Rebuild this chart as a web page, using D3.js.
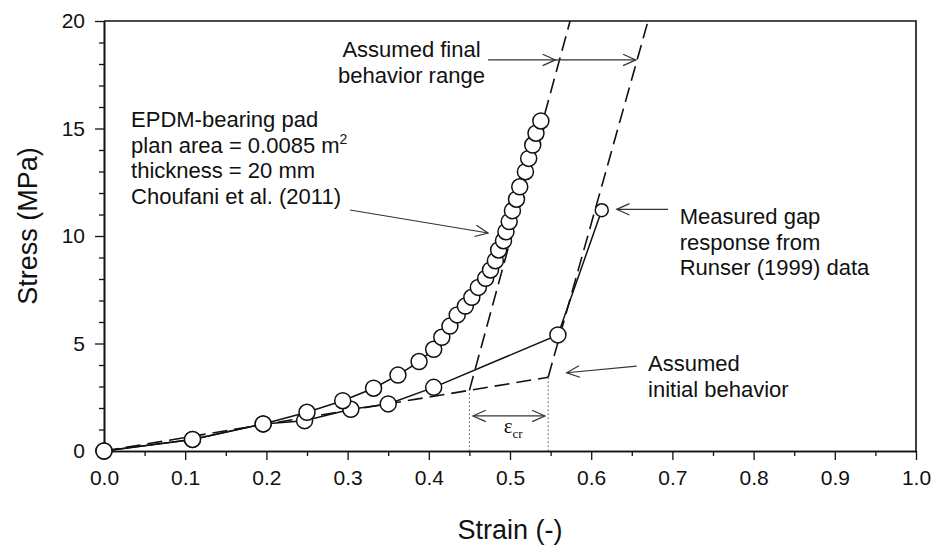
<!DOCTYPE html>
<html>
<head>
<meta charset="utf-8">
<script src="https://cdn.jsdelivr.net/npm/d3@7"></script>
<style>
body { margin: 0; background: #fff; }
svg text { font-family: "Liberation Sans", Arial, sans-serif; fill: #111; }
</style>
</head>
<body>
<svg id="chart" width="931" height="545"></svg>
<script>
// EPDM bearing pad, Choufani et al. (2011)
const epdmStrain = [0, 0.109, 0.196, 0.250, 0.294, 0.332, 0.362, 0.388, 0.406, 0.416, 0.426, 0.435,
  0.445, 0.453, 0.461, 0.470, 0.476, 0.482, 0.486, 0.492, 0.495, 0.499, 0.503, 0.508, 0.512,
  0.519, 0.523, 0.528, 0.532, 0.538];
const epdmStress = [0, 0.54, 1.26, 1.80, 2.34, 2.92, 3.53, 4.16, 4.73, 5.29, 5.81, 6.33,
  6.74, 7.15, 7.61, 8.03, 8.42, 8.85, 9.35, 9.78, 10.2, 10.67, 11.18, 11.71, 12.29,
  12.99, 13.61, 14.23, 14.78, 15.35];

// measured gap response, Runser (1999)
const gapStrain = [0, 0.109, 0.196, 0.247, 0.304, 0.350, 0.406, 0.559, 0.613];
const gapStress = [0, 0.54, 1.26, 1.41, 1.94, 2.19, 2.96, 5.40, 11.2];

// assumed behaviour (dashed)
const initialStrain = [0, 0.547];
const initialStress = [0, 3.43];
const finalLeftStrain = [0.45, 0.574];
const finalLeftStress = [2.82, 20];
const finalRightStrain = [0.547, 0.670];
const finalRightStress = [3.43, 20];

// eps_cr limits (dotted)
const crStrain = [0.45, 0.547];
const crStress = [2.82, 3.43];

const xTicks = [0, 0.1, 0.2, 0.3, 0.4, 0.5, 0.6, 0.7, 0.8, 0.9, 1.0];
const xMinor = [0.05, 0.15, 0.25, 0.35, 0.45, 0.55, 0.65, 0.75, 0.85, 0.95];
const yTicks = [0, 5, 10, 15, 20];
const yMinor = [1, 2, 3, 4, 6, 7, 8, 9, 11, 12, 13, 14, 16, 17, 18, 19];

const svg = d3.select("#chart");
const pLeft = 104, pRight = 916, pTop = 21, pBottom = 451;

const x = d3.scaleLinear().domain([0, 1]).range([pLeft, pRight]);
const y = d3.scaleLinear().domain([0, 20]).range([pBottom, pTop]);

const pts = (xs, ys) => xs.map((v, i) => [x(v), y(ys[i])]);
const line = d3.line();

// arrows with open V heads
function arrow(g, x1, y1, x2, y2, both) {
  const p1 = [x(x1), y(y1)], p2 = [x(x2), y(y2)];
  g.append("line").attr("x1", p1[0]).attr("y1", p1[1]).attr("x2", p2[0]).attr("y2", p2[1]);
  const head = (tip, from) => {
    const a = Math.atan2(tip[1] - from[1], tip[0] - from[0]);
    const len = 14, sp = 0.42;
    g.append("path").attr("fill", "none").attr("d",
      "M" + (tip[0] - len * Math.cos(a - sp)) + "," + (tip[1] - len * Math.sin(a - sp)) +
      "L" + tip[0] + "," + tip[1] +
      "L" + (tip[0] - len * Math.cos(a + sp)) + "," + (tip[1] - len * Math.sin(a + sp)));
  };
  head(p2, p1);
  if (both) head(p1, p2);
}

// axes
const xAxis = svg.append("g").attr("transform", `translate(0,${pBottom})`)
  .call(d3.axisBottom(x).tickValues(xTicks).tickFormat(d3.format(".1f")).tickSize(9).tickSizeOuter(0));
svg.append("g").attr("transform", `translate(0,${pBottom})`)
  .call(d3.axisBottom(x).tickValues(xMinor).tickFormat("").tickSize(5).tickSizeOuter(0));
const yAxis = svg.append("g").attr("transform", `translate(${pLeft},0)`)
  .call(d3.axisLeft(y).tickValues(yTicks).tickSize(9).tickSizeOuter(0));
svg.append("g").attr("transform", `translate(${pLeft},0)`)
  .call(d3.axisLeft(y).tickValues(yMinor).tickFormat("").tickSize(5).tickSizeOuter(0));

svg.selectAll(".domain").attr("stroke", "#111").attr("stroke-width", 1.6);
svg.selectAll(".tick line").attr("stroke", "#111").attr("stroke-width", 1.3);
xAxis.selectAll("text").attr("font-size", 21).attr("dy", "1.05em").attr("fill", "#111");
yAxis.selectAll("text").attr("font-size", 21).attr("x", -19).attr("fill", "#111");

// frame top / right
svg.append("path").attr("fill", "none").attr("stroke", "#111").attr("stroke-width", 1.6)
  .attr("d", `M${pLeft},${pTop}H${pRight}V${pBottom}`);

svg.append("text").attr("x", (pLeft + pRight) / 2).attr("y", 539).attr("text-anchor", "middle")
  .attr("font-size", 27).text("Strain (-)");
svg.append("text").attr("transform", `translate(37,226) rotate(-90)`)
  .attr("text-anchor", "middle").attr("font-size", 27).text("Stress (MPa)");

// dashed assumed lines
const plot = svg.append("g");
plot.append("defs").append("clipPath").attr("id", "clip").append("rect")
  .attr("x", pLeft).attr("y", pTop).attr("width", pRight - pLeft).attr("height", pBottom - pTop);
const dashed = plot.append("g").attr("clip-path", "url(#clip)")
  .attr("fill", "none").attr("stroke", "#111").attr("stroke-width", 1.6).attr("stroke-dasharray", "15,7");
[[initialStrain, initialStress], [finalLeftStrain, finalLeftStress], [finalRightStrain, finalRightStress]]
  .forEach(([xs, ys]) => dashed.append("path").attr("d", line(pts(xs, ys))));

// dotted eps_cr limits
crStrain.forEach((v, i) => {
  plot.append("line").attr("x1", x(v)).attr("x2", x(v)).attr("y1", y(0)).attr("y2", y(crStress[i]))
    .attr("stroke", "#555").attr("stroke-width", 1).attr("stroke-dasharray", "1.5,2.5");
});

// data lines
plot.append("path").attr("fill", "none").attr("stroke", "#111").attr("stroke-width", 1.5)
  .attr("d", line(pts(gapStrain, gapStress)));
plot.append("path").attr("fill", "none").attr("stroke", "#111").attr("stroke-width", 1.5)
  .attr("d", line(pts(epdmStrain, epdmStress)));

// markers
const markers = plot.append("g").attr("fill", "#fff").attr("stroke", "#111").attr("stroke-width", 1.5);
markers.selectAll(".gap").data(pts(gapStrain, gapStress)).join("circle")
  .attr("class", "gap").attr("cx", d => d[0]).attr("cy", d => d[1])
  .attr("r", (d, i) => i === gapStrain.length - 1 ? 6.5 : 8);
markers.selectAll(".epdm").data(pts(epdmStrain, epdmStress)).join("circle")
  .attr("class", "epdm").attr("cx", d => d[0]).attr("cy", d => d[1]).attr("r", 8);

// annotations
const ann = svg.append("g").attr("stroke", "#333").attr("stroke-width", 1.2).attr("fill", "none");
const lh = 25.7;

const epdmNote = svg.append("text").attr("font-size", 22);
["EPDM-bearing pad", "plan area = 0.0085 m", "thickness = 20 mm", "Choufani et al. (2011)"]
  .forEach((t, i) => {
    const ts = epdmNote.append("tspan").attr("x", x(0.0333)).attr("y", y(15.07) + i * lh).text(t);
    if (i === 1) epdmNote.append("tspan").attr("dy", -9).attr("font-size", 14).text("2");
  });
arrow(ann, 0.303, 11.21, 0.473, 10.14);

const finalNote = svg.append("text").attr("font-size", 22).attr("text-anchor", "middle");
["Assumed final", "behavior range"].forEach((t, i) =>
  finalNote.append("tspan").attr("x", x(0.3787)).attr("y", y(18.33) + i * lh).text(t));
arrow(ann, 0.473, 18.19, 0.556, 18.19);
arrow(ann, 0.556, 18.19, 0.655, 18.19);

const gapNote = svg.append("text").attr("font-size", 22);
["Measured gap", "response from", "Runser (1999) data"].forEach((t, i) =>
  gapNote.append("tspan").attr("x", x(0.709)).attr("y", y(10.56) + i * lh).text(t));
arrow(ann, 0.6946, 11.24, 0.6314, 11.24);

const initNote = svg.append("text").attr("font-size", 22);
["Assumed", "initial behavior"].forEach((t, i) =>
  initNote.append("tspan").attr("x", x(0.670)).attr("y", y(3.72) + i * lh).text(t));
arrow(ann, 0.656, 3.95, 0.5698, 3.64);

// eps_cr
arrow(ann, 0.4544, 1.63, 0.543, 1.63, true);
const eps = svg.append("text").attr("x", x(0.504)).attr("y", y(0.84)).attr("text-anchor", "middle");
eps.append("tspan").attr("font-family", "Liberation Serif, serif").attr("font-size", 21).text("ε");
eps.append("tspan").attr("font-family", "Liberation Serif, serif").attr("font-size", 13).attr("dy", 5).text("cr");
</script>
</body>
</html>
